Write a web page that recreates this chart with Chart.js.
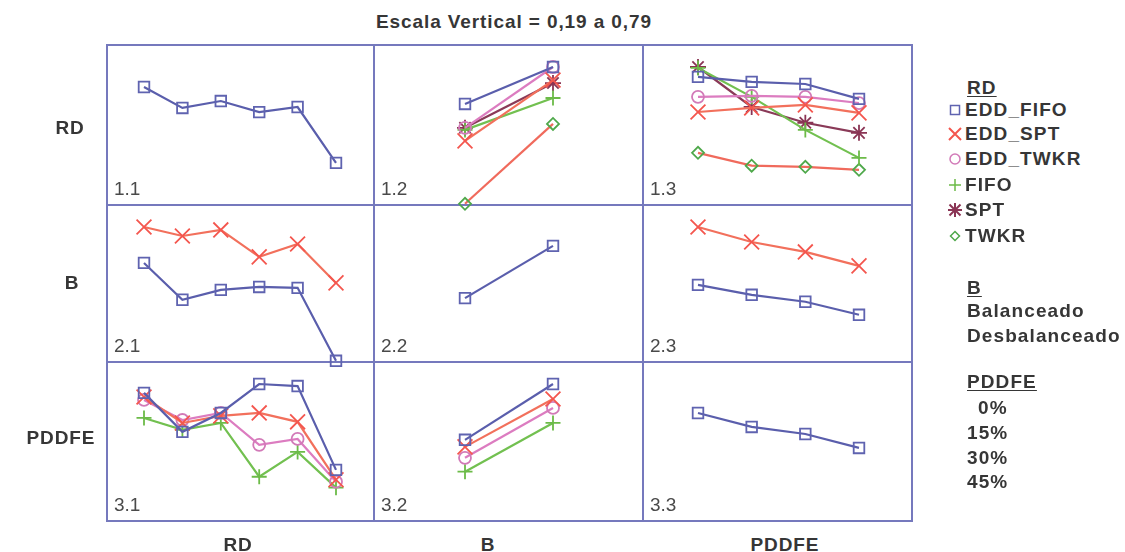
<!DOCTYPE html>
<html>
<head>
<meta charset="utf-8">
<script src="https://cdn.jsdelivr.net/npm/chart.js@4"></script>
<style>
  body { margin: 0; background: #fff; width: 1125px; height: 552px; position: relative; overflow: hidden;
         font-family: "Liberation Sans", Arial, sans-serif; color: #363636; }
  .frame { position: absolute; background: #7579bd; }
  .lbl { position: absolute; font-weight: bold; font-size: 19px; letter-spacing: 0.9px; white-space: nowrap; }
  .pnum { position: absolute; font-size: 19px; color: #4a4a4a; }
  canvas { position: absolute; }
  .leg { position: absolute; left: 965px; font-weight: bold; font-size: 19px; letter-spacing: 1.1px; white-space: nowrap; line-height: 20px; }
  .leg u { text-underline-offset: 2px; }
  .sym { position: absolute; left: 948px; width: 14px; height: 14px; }
</style>
</head>
<body>
<div class="lbl" style="left:0;width:1028px;top:11px;text-align:center;">Escala Vertical = 0,19 a 0,79</div>
<div id="frames"></div>
<div id="panels"></div>
<div class="lbl" style="left:40px;width:60px;text-align:center;top:117px;">RD</div>
<div class="lbl" style="left:42px;width:60px;text-align:center;top:272px;">B</div>
<div class="lbl" style="left:16px;width:90px;text-align:center;top:427px;">PDDFE</div>
<div class="lbl" style="left:188px;width:100px;text-align:center;top:534px;">RD</div>
<div class="lbl" style="left:438px;width:100px;text-align:center;top:534px;">B</div>
<div class="lbl" style="left:735px;width:100px;text-align:center;top:534px;">PDDFE</div>
<div id="legend"></div>
<script>
// factor levels
const RD = ["EDD_FIFO", "EDD_SPT", "EDD_TWKR", "FIFO", "SPT", "TWKR"];
const B = ["Balanceado", "Desbalanceado"];
const PDDFE = ["0%", "15%", "30%", "45%"];

// means (row factor lines vs column factor)
const p11 = [0.703, 0.612, 0.642, 0.594, 0.616, 0.373];
const p12 = [[0.629, 0.790], [0.468, 0.733], [0.525, 0.790], [0.516, 0.655], [0.525, 0.720], [0.194, 0.542]];
const p13 = [
  [0.747, 0.725, 0.716, 0.651],
  [0.594, 0.612, 0.625, 0.590],
  [0.660, 0.664, 0.660, 0.633],
  [0.786, 0.660, 0.516, 0.394],
  [0.790, 0.616, 0.547, 0.503],
  [0.416, 0.360, 0.355, 0.342],
];
const p21 = [[0.630, 0.466, 0.510, 0.523, 0.519, 0.194], [0.790, 0.750, 0.777, 0.657, 0.714, 0.541]];
const p22 = [0.474, 0.706];
const p23 = [[0.532, 0.488, 0.457, 0.399], [0.790, 0.723, 0.679, 0.617]];
const p31 = [
  [0.751, 0.580, 0.663, 0.790, 0.781, 0.413],
  [0.733, 0.619, 0.650, 0.663, 0.624, 0.370],
  [0.720, 0.632, 0.663, 0.523, 0.549, 0.361],
  [0.641, 0.589, 0.619, 0.383, 0.492, 0.335],
];
const p32 = [[0.545, 0.790], [0.514, 0.724], [0.466, 0.685], [0.405, 0.619]];
const p33 = [0.663, 0.602, 0.571, 0.510];

const Y_MIN = 0.19;
const Y_MAX = 0.79;

// marker / line look for the n-th line in a panel
const STYLES = [
  { pointStyle: "rect", radius: 7.5, marker: "#5f63b0", line: "#5a5eac" },
  { pointStyle: "crossRot", radius: 10.5, marker: "#f4564e", line: "#f2705c" },
  { pointStyle: "circle", radius: 6, marker: "#d27ab8", line: "#dc7cc0" },
  { pointStyle: "cross", radius: 7.5, marker: "#6cbb48", line: "#72c050" },
  { pointStyle: "star", radius: 8, marker: "#8a3454", line: "#8a3a58" },
  { pointStyle: "rectRot", radius: 6, marker: "#4ea84a", line: "#f06a5c" },
];

// panel geometry (pixels)
const COLS = [
  { x: 107, w: 267, padL: 37, padR: 38 },
  { x: 374, w: 269, padL: 91, padR: 90 },
  { x: 643, w: 269, padL: 55, padR: 53 },
];
const ROWS = [
  { y: 45, h: 160 },
  { y: 205, h: 157 },
  { y: 362, h: 159 },
];
const TOP_PAD = 22;
const EXT = 12;

// frame
const frames = document.getElementById("frames");
function bar(l, t, w, h) {
  const d = document.createElement("div");
  d.className = "frame";
  Object.assign(d.style, { left: l + "px", top: t + "px", width: w + "px", height: h + "px" });
  frames.appendChild(d);
}
const fx0 = COLS[0].x, fx1 = COLS[2].x + COLS[2].w;
const fy0 = ROWS[0].y, fy1 = ROWS[2].y + ROWS[2].h;
bar(fx0 - 1, fy0 - 1, fx1 - fx0 + 2, 2);
bar(fx0 - 1, fy1 - 1, fx1 - fx0 + 2, 2);
bar(fx0 - 1, fy0 - 1, 2, fy1 - fy0 + 2);
bar(fx1 - 1, fy0 - 1, 2, fy1 - fy0 + 2);
bar(COLS[1].x - 1, fy0, 2, fy1 - fy0);
bar(COLS[2].x - 1, fy0, 2, fy1 - fy0);
bar(fx0, ROWS[1].y - 1, fx1 - fx0, 2);
bar(fx0, ROWS[2].y - 1, fx1 - fx0, 2);

const panels = document.getElementById("panels");

function makePanel(r, c, labels, series) {
  const col = COLS[c], row = ROWS[r];
  const canvas = document.createElement("canvas");
  canvas.width = col.w + EXT * 2;
  canvas.height = row.h + EXT * 2;
  canvas.style.left = col.x - EXT + "px";
  canvas.style.top = row.y - EXT + "px";
  panels.appendChild(canvas);

  const num = document.createElement("div");
  num.className = "pnum";
  num.textContent = `${r + 1}.${c + 1}`;
  num.style.left = col.x + 7 + "px";
  num.style.top = row.y + row.h - 27 + "px";
  panels.appendChild(num);

  const datasets = series.map((data, i) => {
    const s = STYLES[i];
    return {
      data,
      borderColor: s.line,
      borderWidth: 2.2,
      pointStyle: s.pointStyle,
      pointRadius: s.radius,
      pointBorderColor: s.marker,
      pointBackgroundColor: "rgba(0,0,0,0)",
      pointBorderWidth: 1.8,
      tension: 0,
      clip: false,
    };
  });

  return new Chart(canvas, {
    type: "line",
    data: { labels, datasets },
    options: {
      responsive: false,
      animation: false,
      events: [],
      devicePixelRatio: 1,
      layout: {
        padding: { left: col.padL + EXT, right: col.padR + EXT, top: TOP_PAD + EXT, bottom: EXT },
      },
      plugins: { legend: { display: false }, tooltip: { enabled: false } },
      scales: {
        x: { display: false, offset: false },
        y: { display: false, min: Y_MIN, max: Y_MAX },
      },
    },
  });
}

makePanel(0, 0, RD, [p11]);
makePanel(0, 1, B, p12);
makePanel(0, 2, PDDFE, p13);
makePanel(1, 0, RD, p21);
makePanel(1, 1, B, [p22]);
makePanel(1, 2, PDDFE, p23);
makePanel(2, 0, RD, p31);
makePanel(2, 1, B, p32);
makePanel(2, 2, PDDFE, [p33]);

// legend text
const legend = document.getElementById("legend");
function legText(txt, top, left, underline) {
  const d = document.createElement("div");
  d.className = "leg";
  d.style.top = top - 10 + "px";
  if (left) d.style.left = left + "px";
  d.innerHTML = underline ? `<u>${txt}</u>` : txt;
  legend.appendChild(d);
}
function legSymbol(i, top) {
  const c = STYLES[i].marker;
  const shapes = [
    `<rect x="2.5" y="2.5" width="9" height="9" fill="none" stroke="${c}" stroke-width="1.5"/>`,
    `<path d="M1 1L13 13M13 1L1 13" stroke="${c}" stroke-width="2"/>`,
    `<circle cx="7" cy="7" r="5" fill="none" stroke="${c}" stroke-width="1.5"/>`,
    `<path d="M7 1V13M1 7H13" stroke="${c}" stroke-width="1.5"/>`,
    `<path d="M1.5 1.5L12.5 12.5M12.5 1.5L1.5 12.5M7 0V14M0 7H14" stroke="${c}" stroke-width="2"/>`,
    `<path d="M7 2.5L11.5 7L7 11.5L2.5 7Z" fill="none" stroke="${c}" stroke-width="1.5"/>`,
  ];
  const d = document.createElement("div");
  d.className = "sym";
  d.style.top = top - 7 + "px";
  d.innerHTML = `<svg width="14" height="14" viewBox="0 0 14 14">${shapes[i]}</svg>`;
  legend.appendChild(d);
}
legText("RD", 88, 967, true);
const rdTops = [110, 134, 159, 185, 210, 236];
RD.forEach((name, i) => {
  legSymbol(i, rdTops[i]);
  legText(name, rdTops[i]);
});
legText("B", 288, 967, true);
legText(B[0], 311, 967);
legText(B[1], 336, 967);
legText("PDDFE", 382, 967, true);
const pTops = [408, 433, 458, 482];
PDDFE.forEach((name, i) => legText(name, pTops[i], i === 0 ? 978 : 967));
</script>
</body>
</html>
